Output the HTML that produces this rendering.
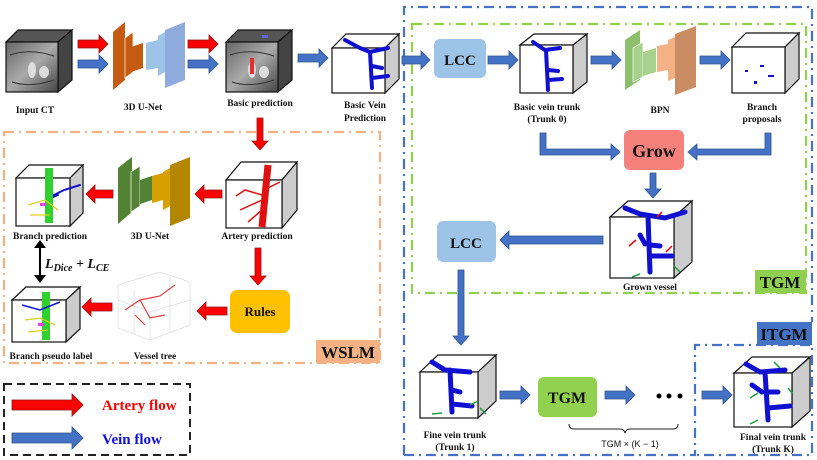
<!DOCTYPE html>
<html><head><meta charset="utf-8"><style>
html,body{margin:0;padding:0;background:#fff}
svg{display:block}
text{font-family:"Liberation Serif",serif;font-weight:bold;fill:#111}
</style></head><body>
<svg width="817" height="460" viewBox="0 0 817 460" xmlns="http://www.w3.org/2000/svg">
<defs>
<linearGradient id="ct" x1="0" y1="0" x2="1" y2="1"><stop offset="0" stop-color="#666"/><stop offset=".5" stop-color="#aaa"/><stop offset="1" stop-color="#444"/></linearGradient>
</defs>

<path d="M404 455 V7 H812 V322" fill="none" stroke="#4472c4" stroke-width="2.2" stroke-dasharray="10,5,2,5"/>
<path d="M404 455 H695 V345 H812 V455 H695" fill="none" stroke="#4472c4" stroke-width="2.2" stroke-dasharray="10,5,2,5"/>
<rect x="757" y="322" width="55" height="23" fill="#4472c4"/>
<text x="784" y="340" font-size="17" text-anchor="middle">ITGM</text>
<rect x="412" y="24" width="394" height="269" fill="none" stroke="#92d050" stroke-width="2.2" stroke-dasharray="10,5,2,5"/>
<rect x="755" y="270" width="51" height="23" fill="#8fce4e"/>
<text x="780" y="288" font-size="17" text-anchor="middle">TGM</text>
<rect x="4" y="132" width="376" height="231" fill="none" stroke="#f4b183" stroke-width="2.2" stroke-dasharray="10,5,2,5"/>
<rect x="316" y="340" width="64" height="23" fill="#f4b183"/>
<text x="348" y="358" font-size="17" text-anchor="middle">WSLM</text>
<rect x="4" y="384" width="186" height="71" fill="none" stroke="#222" stroke-width="2" stroke-dasharray="8,5"/>

<g stroke="#111" stroke-width="1.2">
<polygon points="6,42 18,30 72,30 58,42" fill="#555"/><polygon points="58,42 72,30 72,80 58,92" fill="#444"/><rect x="6" y="42" width="52" height="50" fill="url(#ct)"/>
<polygon points="226,42 238,30 292,30 278,42" fill="#555"/><polygon points="278,42 292,30 292,80 278,92" fill="#444"/><rect x="226" y="42" width="52" height="50" fill="url(#ct)"/>
<polygon points="332,48 346,34 399,34 385,48" fill="#fff"/><polygon points="385,48 399,34 399,79 385,93" fill="#ccc"/><rect x="332" y="48" width="53" height="45" fill="#fff"/>
<polygon points="520,45 534,34 587,34 573,45" fill="#fff"/><polygon points="573,45 587,34 587,82 573,93" fill="#ccc"/><rect x="520" y="45" width="53" height="48" fill="#fff"/>
<polygon points="732,47 746,33 799,33 785,47" fill="#fff"/><polygon points="785,47 799,33 799,79 785,93" fill="#ccc"/><rect x="732" y="47" width="53" height="46" fill="#fff"/>
<polygon points="610,217 628,201 692,201 674,217" fill="#fff"/><polygon points="674,217 692,201 692,262 674,278" fill="#ccc"/><rect x="610" y="217" width="64" height="61" fill="#fff"/>
<polygon points="420,372 438,355 496,355 478,372" fill="#fff"/><polygon points="478,372 496,355 496,401 478,418" fill="#ccc"/><rect x="420" y="372" width="58" height="46" fill="#fff"/>
<polygon points="734,373 752,357 810,357 792,373" fill="#fff"/><polygon points="792,373 810,357 810,411 792,427" fill="#ccc"/><rect x="734" y="373" width="58" height="54" fill="#fff"/>
<polygon points="226,180 241,162 297,162 282,180" fill="#fff"/><polygon points="282,180 297,162 297,210 282,228" fill="#ccc"/><rect x="226" y="180" width="56" height="48" fill="#fff"/>
<polygon points="16,178 29,165 83,165 70,178" fill="#fff"/><polygon points="70,178 83,165 83,213 70,226" fill="#ccc"/><rect x="16" y="178" width="54" height="48" fill="#fff"/>
<polygon points="12,300 26,287 80,287 66,300" fill="#fff"/><polygon points="66,300 80,287 80,329 66,342" fill="#ccc"/><rect x="12" y="300" width="54" height="42" fill="#fff"/>
</g>

<g fill="#ddd"><ellipse cx="32" cy="70" rx="4" ry="8"/><ellipse cx="44" cy="72" rx="5" ry="6"/><ellipse cx="252" cy="70" rx="4" ry="8"/><ellipse cx="264" cy="72" rx="5" ry="6"/></g>
<g stroke="#333" stroke-width="1" fill="none"><path d="M10 55 Q30 48 54 56 M12 82 Q30 88 54 80 M230 55 Q250 48 274 56 M232 82 Q250 88 274 80"/></g>
<rect x="250" y="58" width="4" height="16" fill="#e03030"/><rect x="262" y="35" width="6" height="3" fill="#6060e0"/>

<g fill="none" stroke="#1010d0" stroke-linecap="round">
<path d="M345 40 L360 48 L370 52 L388 48 M370 52 L372 88 M372 66 L382 68 M372 78 L388 76" stroke-width="4"/>
<path d="M533 42 L545 50 L560 48 M546 50 L548 90 M548 70 L558 71 M548 80 L562 79" stroke-width="4"/>
<path d="M625 208 L640 214 L665 218 L685 212 M648 216 L650 272 M650 245 L660 246 M650 256 L672 256 M640 235 L645 244" stroke-width="5"/>
<path d="M432 362 L445 370 L470 372 M450 370 L452 412 M452 390 L460 392 M452 404 L472 406" stroke-width="5"/>
<path d="M746 364 L760 372 L785 370 M765 372 L768 420 M768 392 L778 392 M768 408 L790 406 M752 385 L762 392" stroke-width="5"/>
<path d="M80 185 L64 190 L52 196 M58 195 L46 200" stroke-width="2"/>
</g>
<g fill="#1010d0"><rect x="745" y="70" width="3" height="2"/><rect x="768" y="75" width="6" height="2"/><rect x="754" y="81" width="3" height="3"/><rect x="760" y="65" width="4" height="2"/></g>
<g stroke="#e01010" fill="none">
<path d="M268 165 L262 227" stroke-width="7"/>
<path d="M262 195 L245 190 L236 196 M262 200 L240 210 M262 210 L248 222 M264 190 L280 182" stroke-width="1.5"/>
</g>
<rect x="45" y="168" width="8" height="55" fill="#2ed12e"/>
<rect x="42" y="292" width="8" height="48" fill="#2ed12e"/>
<path d="M28 205 L45 200 L58 210 M30 215 L50 215" stroke="#e0d020" stroke-width="1.2" fill="none"/>
<path d="M25 320 L40 318 L55 325 M28 332 L48 330" stroke="#e0d020" stroke-width="1.2" fill="none"/>
<path d="M22 305 L40 310 L60 302" stroke="#1010d0" stroke-width="1.5" fill="none"/>
<rect x="40" y="203" width="6" height="3" fill="#e040e0"/><rect x="38" y="323" width="6" height="3" fill="#e040e0"/>

<g stroke="#ccc" stroke-width=".5" fill="none"><polygon points="118,285 160,272 190,282 190,325 150,340 118,328"/><path d="M118 300 L150 312 L190 300 M150 312 L150 340 M134 290 L134 334 M170 277 L170 333"/></g>
<path d="M125 310 L140 300 L160 296 L175 285 M140 300 L150 318 L165 315 M135 315 L145 325" stroke="#e04040" stroke-width="1.2" fill="none"/>

<g stroke-width="1.5"><path d="M662 212 L657 217" stroke="#e00"/><path d="M636 240 L629 246" stroke="#e00"/><path d="M672 246 L666 252" stroke="#e00"/>
<path d="M632 277 L640 274" stroke="#1a9e40"/><path d="M674 266 L680 272" stroke="#1a9e40"/>
<path d="M432 414 L442 413" stroke="#1a9e40"/><path d="M478 401 L470 405" stroke="#1a9e40"/><path d="M480 408 L486 414" stroke="#1a9e40"/>
<path d="M774 362 L780 368" stroke="#1a9e40"/><path d="M750 398 L758 393" stroke="#1a9e40"/><path d="M788 388 L792 393" stroke="#1a9e40"/><path d="M750 424 L758 420" stroke="#1a9e40"/></g>

<polygon points="113,32 125,22 125,80 113,90" fill="#c55a11"/><polygon points="125,38 133,32 133,72 125,78" fill="#c55a11" stroke="#fff" stroke-width=".7"/><polygon points="131,47 143,43 143,68 131,72" fill="#c55a11"/>
<polygon points="146,43 158,40 158,68 146,70" fill="#9dc3e6"/><polygon points="158,36 165,32 165,72 158,76" fill="#9dc3e6"/><polygon points="165,30 185,22 185,80 165,88" fill="#8faadc"/>
<polygon points="118,168 132,157 132,212 118,224" fill="#548235"/><polygon points="131,172 140,166 140,206 131,212" fill="#548235" stroke="#fff" stroke-width=".7"/><polygon points="140,180 152,176 152,200 140,204" fill="#548235"/>
<polygon points="152,176 163,173 163,200 152,203" fill="#d6a100"/><polygon points="163,172 170,168 170,206 163,210" fill="#d6a100"/><polygon points="170,165 190,157 190,218 170,226" fill="#b38600"/>
<polygon points="625,40 640,30 640,80 625,90" fill="#8cbf6b"/><polygon points="633,48 643,42 643,77 633,82" fill="#a9d18e" stroke="#fff" stroke-width=".7"/><polygon points="643,52 656,48 656,72 643,76" fill="#a9d18e"/>
<polygon points="657,46 668,44 668,70 657,72" fill="#f4b183"/><polygon points="668,40 675,37 675,78 668,81" fill="#f4b183"/><polygon points="675,34 696,26 696,87 675,95" fill="#c98c63"/>

<rect x="434" y="39" width="52" height="39" rx="6" fill="#9dc3e6"/><text x="460" y="65" font-size="15" text-anchor="middle">LCC</text>
<rect x="437" y="221" width="59" height="41" rx="6" fill="#9dc3e6"/><text x="466" y="248" font-size="15" text-anchor="middle">LCC</text>
<rect x="624" y="130" width="60" height="40" rx="6" fill="#f4817c"/><text x="654" y="157" font-size="18" text-anchor="middle">Grow</text>
<rect x="538" y="377" width="59" height="40" rx="6" fill="#92d050"/><text x="567" y="403" font-size="16" text-anchor="middle">TGM</text>
<rect x="230" y="290" width="60" height="43" rx="7" fill="#ffc000"/><text x="260" y="316" font-size="13" text-anchor="middle">Rules</text>

<g fill="#4472c4" stroke="#2f528f" stroke-width=".8">
<path d="M78 60 H99 V55 L108 64 L99 73 V68 H78 Z"/>
<path d="M188 60 H209 V55 L218 64 L209 73 V68 H188 Z"/>
<path d="M298 54 H319 V49 L328 58 L319 67 V62 H298 Z"/>
<path d="M402 56 H421 V51 L430 60 L421 69 V64 H402 Z"/>
<path d="M488 56 H509 V51 L518 60 L509 69 V64 H488 Z"/>
<path d="M591 56 H612 V51 L621 60 L612 69 V64 H591 Z"/>
<path d="M700 56 H721 V51 L730 60 L721 69 V64 H700 Z"/>
<path d="M540 133 H546 V149 H611 V144 L620 152 L611 160 V155 H540 Z"/>
<path d="M765 133 H771 V155 H697 V160 L688 152 L697 144 V149 H765 Z"/>
<path d="M650 173 H656 V189 H661 L653 198 L645 189 H650 Z"/>
<path d="M603 236 H509 V231 L500 240 L509 249 V244 H603 Z"/>
<path d="M458 270 H464 V336 H469 L461 345 L453 336 H458 Z"/>
<path d="M500 391 H521 V386 L530 395 L521 404 V399 H500 Z"/>
<path d="M605 391 H626 V386 L635 395 L626 404 V399 H605 Z"/>
<path d="M702 391 H723 V386 L732 395 L723 404 V399 H702 Z"/>
<path d="M12 433 H72 V427 L83 438 L72 449 V443 H12 Z"/>
</g>
<g fill="#ff0000" stroke="#8b1a1a" stroke-width=".8">
<path d="M78 40 H99 V35 L108 44 L99 53 V48 H78 Z"/>
<path d="M188 40 H209 V35 L218 44 L209 53 V48 H188 Z"/>
<path d="M257 118 H263 V141 H268 L260 150 L252 141 H257 Z"/>
<path d="M222 190 H204 V185 L195 194 L204 203 V198 H222 Z"/>
<path d="M113 190 H95 V185 L86 194 L95 203 V198 H113 Z"/>
<path d="M255 248 H261 V276 H266 L258 285 L250 276 H255 Z"/>
<path d="M227 307 H206 V302 L197 311 L206 320 V315 H227 Z"/>
<path d="M112 303 H91 V298 L82 307 L91 316 V311 H112 Z"/>
<path d="M12 400 H72 V394 L83 405 L72 416 V410 H12 Z"/>
</g>
<path d="M40 246 V277" stroke="#000" stroke-width="2"/><path d="M34 248 L40 240 L46 248 Z M34 275 L40 283 L46 275 Z" fill="#000"/>
<g fill="#000"><circle cx="659" cy="396" r="2.5"/><circle cx="669" cy="396" r="2.5"/><circle cx="680" cy="396" r="2.5"/></g>
<path d="M569 424 Q569 429 574 429 H620 Q624 429 625 433 Q626 429 630 429 H673 Q678 429 678 424" fill="none" stroke="#222" stroke-width="1"/>

<g font-size="9.5" text-anchor="middle">
<text x="35" y="113">Input CT</text>
<text x="143" y="110">3D U-Net</text>
<text x="260" y="106">Basic prediction</text>
<text x="365" y="108">Basic Vein</text><text x="365" y="121">Prediction</text>
<text x="547" y="110">Basic vein trunk</text><text x="547" y="122">(Trunk 0)</text>
<text x="660" y="113">BPN</text>
<text x="762" y="110">Branch</text><text x="762" y="122">proposals</text>
<text x="650" y="290">Grown vessel</text>
<text x="455" y="438">Fine vein trunk</text><text x="455" y="450">(Trunk 1)</text>
<text x="773" y="440">Final vein trunk</text><text x="773" y="452">(Trunk K)</text>
<text x="50" y="239">Branch prediction</text>
<text x="150" y="239">3D U-Net</text>
<text x="257" y="239">Artery prediction</text>
<text x="51" y="359">Branch  pseudo label</text>
<text x="155" y="359">Vessel tree</text>
</g>
<text x="630" y="447" font-size="9" text-anchor="middle" style="font-family:'Liberation Sans',sans-serif;font-weight:normal">TGM × (K − 1)</text>
<text x="45" y="268" font-size="14" font-style="italic">L<tspan font-size="10" dy="3">Dice</tspan><tspan dy="-3"> + L</tspan><tspan font-size="10" dy="3">CE</tspan></text>
<text x="102" y="410" font-size="15" style="fill:#ff0000">Artery flow</text>
<text x="102" y="444" font-size="15" style="fill:#1010e0">Vein flow</text>
</svg>
</body></html>
